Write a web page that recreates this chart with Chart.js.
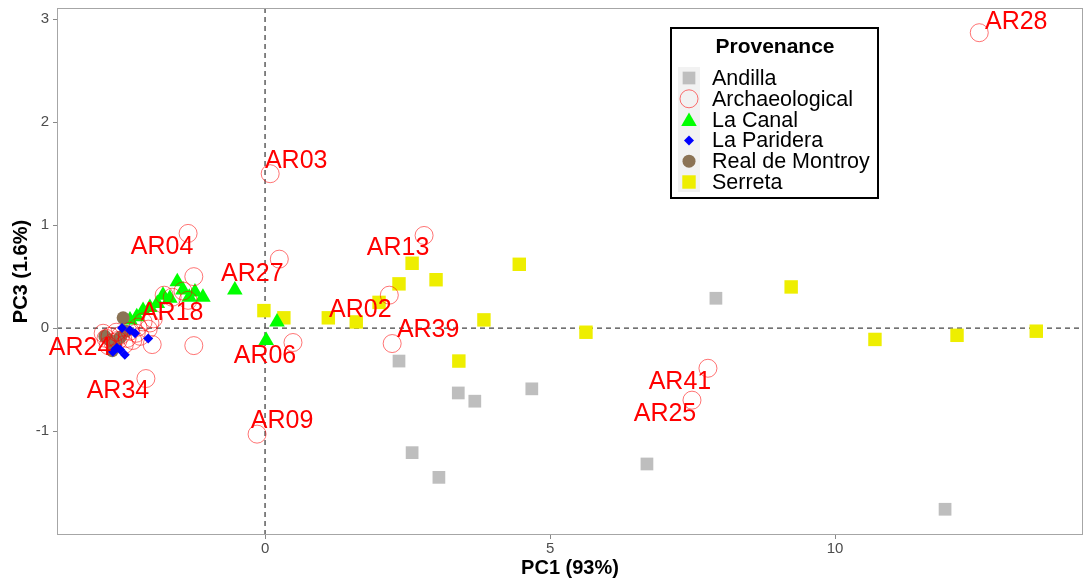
<!DOCTYPE html>
<html>
<head>
<meta charset="utf-8">
<script src="https://cdn.jsdelivr.net/npm/chart.js@4/dist/chart.umd.min.js"></script>
<style>
  html, body { margin: 0; padding: 0; background: #ffffff; }
  canvas { display: block; }
</style>
</head>
<body>
<canvas id="c" width="1084" height="586"></canvas>
<script>
// ---------------- data ----------------
const xTicks = [0, 5, 10];
const yTicks = [-1, 0, 1, 2, 3];

const andillaPC1 = [7.91, 2.35, 3.39, 3.68, 4.68, 2.58, 3.05, 6.70, 11.93];
const andillaPC3 = [0.29, -0.32, -0.63, -0.71, -0.59, -1.21, -1.45, -1.32, -1.76];

const serretaPC1 = [-0.02, 0.33, 1.11, 1.60, 2.00, 2.35, 2.58, 3.00, 3.84, 4.46, 3.40, 5.63, 9.23, 10.70, 12.14, 13.53];
const serretaPC3 = [0.17, 0.10, 0.10, 0.06, 0.25, 0.43, 0.63, 0.47, 0.08, 0.62, -0.32, -0.04, 0.40, -0.11, -0.07, -0.03];

const archPC1 = [12.53, 0.09, -0.14, 2.79, 2.18, 2.23, 7.77, 7.49, 0.49, 0.25, -1.35, -2.09, -2.05, -2.79,
  -2.84, -2.72, -2.67, -2.61, -2.75, -2.58, -2.53, -2.47, -2.42, -2.37, -2.32, -2.26, -2.23, -2.19,
  -2.14, -2.02, -1.96, -1.98, -1.77, -1.63, -1.44, -1.35, -1.25, -1.25];
const archPC3 = [2.87, 1.50, -1.03, 0.90, 0.32, -0.15, -0.39, -0.70, -0.14, 0.67, 0.92, -0.49, -0.01, -0.10,
  -0.05, -0.08, -0.14, -0.04, -0.17, -0.12, -0.07, -0.16, -0.10, -0.03, -0.12, -0.05, 0.01, -0.08,
  0.06, 0.05, 0.09, -0.16, 0.32, 0.30, 0.36, 0.27, 0.50, -0.17];
const archNames = ['AR28', 'AR03', 'AR09', 'AR13', 'AR02', 'AR39', 'AR41', 'AR25', 'AR06', 'AR27', 'AR04', 'AR34', 'AR18', 'AR24'];

const canalPC1 = [-1.54, -1.44, -1.23, -1.09, -1.79, -1.67, -1.89, -2.02, -2.14, -2.25, -2.37, -1.33, -0.53, 0.21, 0.02];
const canalPC3 = [0.45, 0.37, 0.35, 0.30, 0.32, 0.29, 0.24, 0.20, 0.17, 0.11, 0.08, 0.30, 0.37, 0.06, -0.12];

const parideraPC1 = [-2.51, -2.37, -2.05, -2.46, -2.60, -2.67, -2.54, -2.28];
const parideraPC3 = [0.00, -0.02, -0.10, -0.26, -0.19, -0.23, -0.21, -0.05];

const montroyPC1 = [-2.49, -2.72, -2.63, -2.54, -2.81, -2.44, -2.68];
const montroyPC3 = [0.10, -0.12, -0.17, -0.09, -0.08, -0.03, -0.22];

const groupNames = ['Andilla', 'Archaeological', 'La Canal', 'La Paridera', 'Real de Montroy', 'Serreta'];

// ---------------- styling ----------------
const FONT = "'Liberation Sans', Arial, Helvetica, sans-serif";
const labelOffsets = {
  AR28: [37, -11], AR03: [26, -13], AR09: [25, -13], AR13: [-26, 13], AR02: [-29, 15],
  AR39: [36, -13], AR41: [-28, 14], AR25: [-27, 14], AR06: [-28, 14], AR27: [-27, 15],
  AR04: [-26, 14], AR34: [-28, 13], AR18: [24, -16], AR24: [-26, 10]
};
const styles = {
  'Andilla':         { pointStyle: 'rect',    radius: 9,   bg: '#bebebe', border: '#bebebe', bw: 0 },
  'Archaeological':  { pointStyle: 'circle',  radius: 9,   bg: 'rgba(0,0,0,0)', border: 'rgba(255,0,0,0.55)', bw: 1 },
  'La Canal':        { pointStyle: 'triangle',radius: 9,   bg: '#00ff00', border: '#00ff00', bw: 0 },
  'La Paridera':     { pointStyle: 'rectRot', radius: 5,   bg: '#0000ff', border: '#0000ff', bw: 0 },
  'Real de Montroy': { pointStyle: 'circle',  radius: 6.5, bg: '#8b7355', border: '#8b7355', bw: 0 },
  'Serreta':         { pointStyle: 'rect',    radius: 9.5, bg: '#eeee00', border: '#eeee00', bw: 0 }
};
const drawOrder = { 'La Paridera': 1, 'Archaeological': 2, 'Real de Montroy': 3, 'La Canal': 4, 'Serreta': 5, 'Andilla': 6 };

function pts(xs, ys) { return xs.map((x, i) => ({ x: x, y: ys[i] })); }
const seriesData = {
  'Andilla': pts(andillaPC1, andillaPC3),
  'Archaeological': pts(archPC1, archPC3),
  'La Canal': pts(canalPC1, canalPC3),
  'La Paridera': pts(parideraPC1, parideraPC3),
  'Real de Montroy': pts(montroyPC1, montroyPC3),
  'Serreta': pts(serretaPC1, serretaPC3)
};

const datasets = groupNames.map(name => {
  const s = styles[name];
  return {
    label: name,
    data: seriesData[name],
    order: drawOrder[name],
    pointStyle: s.pointStyle,
    pointRadius: s.radius,
    pointHoverRadius: s.radius,
    backgroundColor: s.bg,
    borderColor: s.border,
    borderWidth: s.bw,
    pointBorderWidth: s.bw,
    showLine: false
  };
});

// ---------------- plugins ----------------
const zeroLines = {
  id: 'zeroLines',
  beforeDatasetsDraw(chart) {
    const { ctx, chartArea: a, scales } = chart;
    const x0 = scales.x.getPixelForValue(0);
    const y0 = scales.y.getPixelForValue(0);
    ctx.save();
    ctx.strokeStyle = '#444444';
    ctx.lineWidth = 1.3;
    ctx.setLineDash([5, 4]);
    ctx.beginPath();
    ctx.moveTo(x0, a.top); ctx.lineTo(x0, a.bottom);
    ctx.moveTo(a.left, y0); ctx.lineTo(a.right, y0);
    ctx.stroke();
    ctx.restore();
  }
};

function drawMarker(ctx, style, x, y) {
  const s = styles[style];
  ctx.save();
  ctx.fillStyle = s.bg;
  ctx.strokeStyle = s.border;
  ctx.lineWidth = s.bw;
  ctx.beginPath();
  const r = s.radius;
  if (s.pointStyle === 'rect') {
    const h = r * Math.SQRT1_2;
    ctx.rect(x - h, y - h, 2 * h, 2 * h);
  } else if (s.pointStyle === 'circle') {
    ctx.arc(x, y, r, 0, Math.PI * 2);
  } else if (s.pointStyle === 'triangle') {
    ctx.moveTo(x, y - r);
    ctx.lineTo(x + r * Math.sin(2 * Math.PI / 3), y - r * Math.cos(2 * Math.PI / 3));
    ctx.lineTo(x + r * Math.sin(4 * Math.PI / 3), y - r * Math.cos(4 * Math.PI / 3));
    ctx.closePath();
  } else if (s.pointStyle === 'rectRot') {
    ctx.moveTo(x, y - r); ctx.lineTo(x + r, y); ctx.lineTo(x, y + r); ctx.lineTo(x - r, y);
    ctx.closePath();
  }
  ctx.fill();
  if (s.bw > 0) ctx.stroke();
  ctx.restore();
}

const overlay = {
  id: 'overlay',
  afterDatasetsDraw(chart) {
    const { ctx } = chart;
    // panel border
    const a = chart.chartArea;
    ctx.save();
    ctx.strokeStyle = '#a6a6a6';
    ctx.lineWidth = 1;
    ctx.strokeRect(a.left + 0.5, a.top + 0.5, a.right - a.left - 1, a.bottom - a.top - 1);
    ctx.restore();

    // point labels
    const idx = groupNames.indexOf('Archaeological');
    const meta = chart.getDatasetMeta(idx);
    ctx.save();
    ctx.fillStyle = '#ff0000';
    ctx.font = '25px ' + FONT;
    ctx.textAlign = 'center';
    ctx.textBaseline = 'middle';
    archNames.forEach((name, i) => {
      const el = meta.data[i];
      const off = labelOffsets[name];
      ctx.fillText(name, el.x + off[0], el.y + off[1]);
    });
    ctx.restore();

    // legend
    const L = { left: 671, top: 28, width: 207, height: 170 };
    ctx.save();
    ctx.fillStyle = '#ffffff';
    ctx.fillRect(L.left, L.top, L.width, L.height);
    ctx.strokeStyle = '#000000';
    ctx.lineWidth = 2;
    ctx.strokeRect(L.left, L.top, L.width, L.height);
    ctx.fillStyle = '#000000';
    ctx.font = 'bold 21px ' + FONT;
    ctx.textAlign = 'center';
    ctx.textBaseline = 'middle';
    ctx.fillText('Provenance', 775, 47);
    ctx.fillStyle = '#f2f2f2';
    ctx.fillRect(678, 67, 22, 125);
    ctx.font = '21.5px ' + FONT;
    ctx.textAlign = 'left';
    groupNames.forEach((name, i) => {
      const yy = 78 + i * 20.8;
      drawMarker(ctx, name, 689, yy + (name === 'La Canal' ? 2 : 0));
      ctx.fillStyle = '#000000';
      ctx.fillText(name, 712, yy + 1);
    });
    ctx.restore();
  }
};

function noPad(s) { s.paddingLeft = 0; s.paddingRight = 0; s.paddingTop = 0; s.paddingBottom = 0; }

// ---------------- chart ----------------
new Chart(document.getElementById('c'), {
  type: 'scatter',
  data: { datasets: datasets },
  options: {
    responsive: false,
    animation: false,
    events: [],
    layout: { autoPadding: false, padding: { left: 0, right: 1, top: 8, bottom: 0 } },
    plugins: { legend: { display: false }, tooltip: { enabled: false } },
    scales: {
      x: {
        type: 'linear', min: -3.65, max: 14.35,
        afterBuildTicks: s => { s.ticks = xTicks.map(v => ({ value: v })); },
        afterFit: s => { s.height = 51; noPad(s); },
        grid: { display: true, drawOnChartArea: false, drawTicks: true, tickLength: 4, color: '#888888' },
        border: { display: false },
        ticks: { color: '#4d4d4d', font: { size: 15, family: FONT }, padding: 1, maxRotation: 0, autoSkip: false,
                 callback: v => String(v) },
        title: { display: true, text: 'PC1 (93%)', color: '#000000', font: { size: 20, weight: 'bold', family: FONT },
                 padding: { top: 0, bottom: 6 } }
      },
      y: {
        type: 'linear', min: -2.01, max: 3.11,
        afterBuildTicks: s => { s.ticks = yTicks.map(v => ({ value: v })); },
        afterFit: s => { s.width = 57; noPad(s); },
        grid: { display: true, drawOnChartArea: false, drawTicks: true, tickLength: 4, color: '#888888' },
        border: { display: false },
        ticks: { color: '#4d4d4d', font: { size: 15, family: FONT }, padding: 4, autoSkip: false,
                 callback: v => String(v) },
        title: { display: true, text: 'PC3 (1.6%)', color: '#000000', font: { size: 20, weight: 'bold', family: FONT },
                 padding: { top: 9, bottom: 0 } }
      }
    }
  },
  plugins: [zeroLines, overlay]
});
</script>
</body>
</html>
